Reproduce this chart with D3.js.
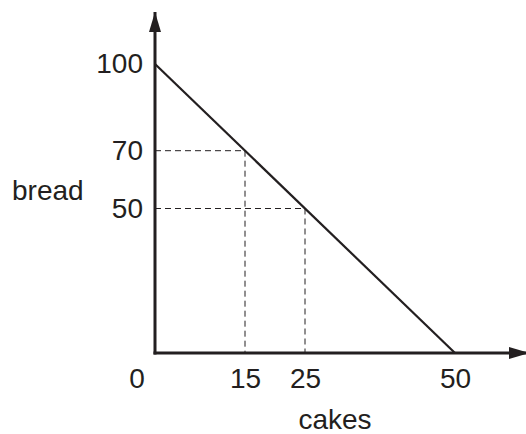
<!DOCTYPE html>
<html>
<head>
<meta charset="utf-8">
<script src="https://cdn.jsdelivr.net/npm/d3@7"></script>
<style>
  body { margin: 0; background: #fff; }
  text { font-family: "Liberation Sans", Arial, sans-serif; fill: #231f20; }
</style>
</head>
<body>
<div id="chart"></div>
<script>
// chart values
var xTicks = [15, 25, 50];
var yTicks = [50, 70, 100];
var frontier = [[0, 100], [50, 0]];   // cakes, bread
var guides = [[15, 70], [25, 50]];
var xLabel = "cakes";
var yLabel = "bread";

var width = 526, height = 434;
var ink = "#231f20";

var svg = d3.select("#chart").append("svg")
    .attr("width", width)
    .attr("height", height);

// scales
var x = d3.scaleLinear().domain([0, 50]).range([155, 455]);
var y = d3.scaleLinear().domain([0, 100]).range([353, 64]);

// arrow heads
var defs = svg.append("defs");
defs.append("marker")
    .attr("id", "arrow")
    .attr("viewBox", "0 0 20 12")
    .attr("refX", 20).attr("refY", 6)
    .attr("markerUnits", "userSpaceOnUse")
    .attr("markerWidth", 20).attr("markerHeight", 12)
    .attr("orient", "auto")
    .append("path")
    .attr("d", "M0,0 L20,6 L0,12 Z")
    .attr("fill", ink);

// dashed guide lines
guides.forEach(function (g) {
    svg.append("path")
        .attr("d", d3.line()([[x(0), y(g[1])], [x(g[0]), y(g[1])], [x(g[0]), y(0)]]))
        .attr("fill", "none")
        .attr("stroke", ink)
        .attr("stroke-width", 1)
        .attr("stroke-dasharray", "6,4");
});

// frontier line
svg.append("path")
    .attr("d", d3.line().x(function (d) { return x(d[0]); }).y(function (d) { return y(d[1]); })(frontier))
    .attr("fill", "none")
    .attr("stroke", ink)
    .attr("stroke-width", 2.2);

// axis lines with arrows
svg.append("line")
    .attr("x1", x(0)).attr("y1", y(0) + 1.5)
    .attr("x2", x(0)).attr("y2", 12)
    .attr("stroke", ink).attr("stroke-width", 3)
    .attr("marker-end", "url(#arrow)");
svg.append("line")
    .attr("x1", x(0) - 1.5).attr("y1", y(0))
    .attr("x2", 529).attr("y2", y(0))
    .attr("stroke", ink).attr("stroke-width", 3)
    .attr("marker-end", "url(#arrow)");

// tick labels through d3 axes
var xAxis = svg.append("g")
    .attr("transform", "translate(0," + y(0) + ")")
    .call(d3.axisBottom(x).tickValues(xTicks).tickSize(0).tickPadding(15));
var yAxis = svg.append("g")
    .attr("transform", "translate(" + x(0) + ",0)")
    .call(d3.axisLeft(y).tickValues(yTicks).tickSize(0).tickPadding(12));
[xAxis, yAxis].forEach(function (a) {
    a.select(".domain").remove();
    a.selectAll("text")
        .attr("font-family", "Liberation Sans, Arial, sans-serif")
        .attr("font-size", 28)
        .attr("fill", ink);
});

// origin label
svg.append("text")
    .attr("x", 137).attr("y", 388)
    .attr("text-anchor", "middle")
    .attr("font-size", 28)
    .text("0");

// axis titles
svg.append("text")
    .attr("x", 335).attr("y", 429)
    .attr("text-anchor", "middle")
    .attr("font-size", 28)
    .text(xLabel);
svg.append("text")
    .attr("x", 12).attr("y", 200)
    .attr("font-size", 28)
    .text(yLabel);
</script>
</body>
</html>
